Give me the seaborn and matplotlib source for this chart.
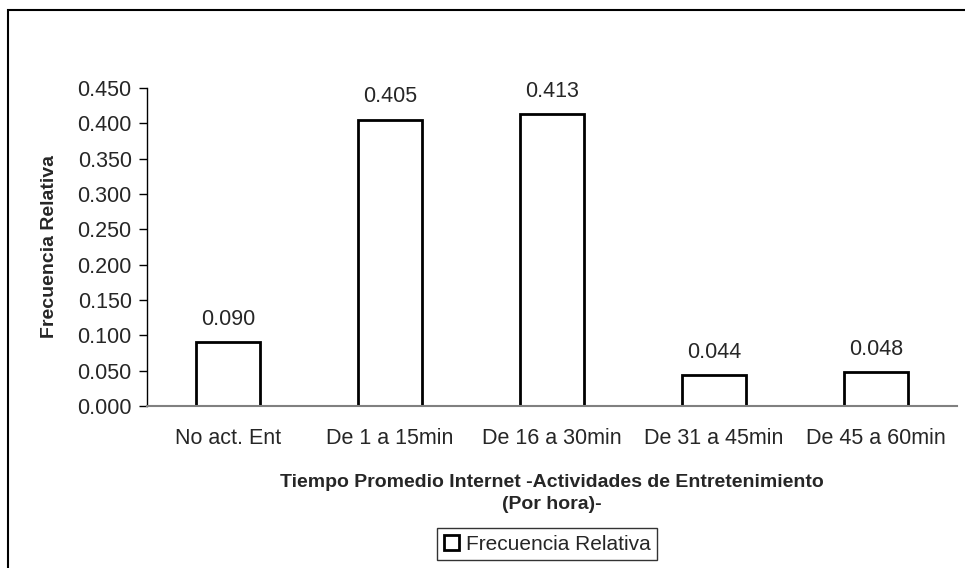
import matplotlib
matplotlib.use("Agg")
import matplotlib.pyplot as plt
import seaborn as sns
import pandas as pd
from matplotlib.patches import Rectangle, Patch

categories = ["No act. Ent", "De 1 a 15min", "De 16 a 30min", "De 31 a 45min", "De 45 a 60min"]
values = [0.090, 0.405, 0.413, 0.044, 0.048]
value_labels = ["0.090", "0.405", "0.413", "0.044", "0.048"]
y_ticks = [0.0, 0.05, 0.10, 0.15, 0.20, 0.25, 0.30, 0.35, 0.40, 0.45]
x_title = "Tiempo Promedio Internet -Actividades de Entretenimiento\n(Por hora)-"
y_title = "Frecuencia Relativa"
legend_label = "Frecuencia Relativa"

sns.set_style("white")
plt.rcParams['font.family'] = ['Liberation Sans', 'DejaVu Sans']

FS = 15.5
BFS = 14

df = pd.DataFrame({"cat": categories, "val": values})

fig = plt.figure(figsize=(9.65, 5.68), dpi=100)
W, H = 965, 568
ax = fig.add_axes([147 / W, 1 - 406 / H, (957 - 147) / W, (406 - 88) / H])

sns.barplot(data=df, x="cat", y="val", color="white", edgecolor="black",
            linewidth=2, width=0.4, ax=ax, saturation=1)

ax.set_xlim(-0.5, len(categories) - 0.5)
ax.set_ylim(0, 0.45)
ax.set_yticks(y_ticks)
ax.set_yticklabels([f"{t:.3f}" for t in y_ticks], fontsize=FS)
ax.set_xticks(range(len(categories)))
ax.set_xticklabels(categories, fontsize=FS)
ax.tick_params(axis="x", which="major", length=0, pad=16)
ax.set_xticks([i - 0.5 for i in range(len(categories) + 1)], minor=True)
ax.tick_params(axis="x", which="minor", length=5, width=1, color="black", direction="out")
ax.tick_params(axis="y", length=6, width=1, color="black", direction="out", left=True, pad=5)

for s in ["top", "right"]:
    ax.spines[s].set_visible(False)
ax.spines["left"].set_color("black")
ax.spines["left"].set_linewidth(1)
ax.spines["bottom"].set_color("#808080")
ax.spines["bottom"].set_linewidth(1.5)

for i, (v, lab) in enumerate(zip(values, value_labels)):
    ax.annotate(lab, (i, v), xytext=(0, 12.5), textcoords="offset points",
                ha="center", va="baseline", fontsize=FS)

ax.set_xlabel(x_title, fontsize=BFS, fontweight="bold", labelpad=18, linespacing=1.35)
ax.set_ylabel(y_title, fontsize=BFS, fontweight="bold", labelpad=14)

handle = Patch(facecolor="white", edgecolor="black", linewidth=2)
fig.legend([handle], [legend_label], loc="center", bbox_to_anchor=(547 / W, 1 - 544 / H),
           fontsize=15, frameon=True, fancybox=False, edgecolor="black",
           handlelength=0.75, handleheight=0.75, handletextpad=0.3, borderpad=0.3,
           borderaxespad=0)

fig.patches.append(Rectangle((8 / W, -0.05), 1.1, 1 - 10 / H + 0.05, transform=fig.transFigure,
                             fill=False, edgecolor="black", linewidth=1.5, zorder=-1))

fig.savefig("out.png", dpi=100, facecolor="white")
